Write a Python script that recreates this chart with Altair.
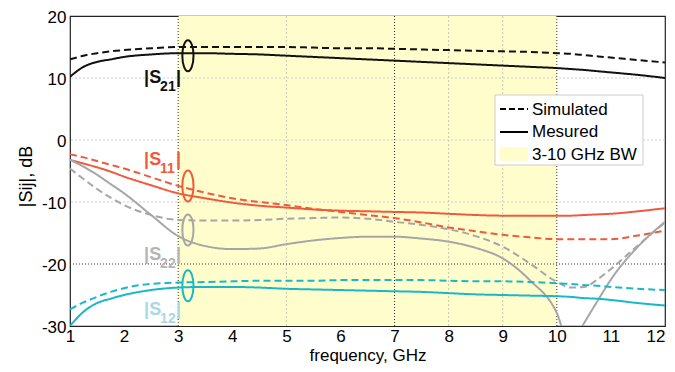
import altair as alt
import pandas as pd

freq = [1, 1.25, 1.5, 1.75, 2, 2.5, 3, 3.5, 4, 4.5, 5, 5.5, 6, 6.5, 7, 7.5,
        8, 8.5, 9, 9.5, 10, 10.25, 10.5, 10.75, 11, 11.5, 12]

s21_sim = [13.0, 13.6, 14.0, 14.3, 14.5, 14.8, 15.0, 15.0, 15.0, 15.0, 15.0, 14.9, 14.8, 14.8,
           14.7, 14.6, 14.5, 14.4, 14.3, 14.2, 14.0, 13.9, 13.7, 13.5, 13.3, 12.9, 12.5]
s21_meas = [10.2, 11.8, 12.6, 13.0, 13.4, 13.8, 14.0, 14.0, 13.9, 13.8, 13.6, 13.4, 13.2, 13.0,
            12.8, 12.6, 12.4, 12.2, 12.0, 11.8, 11.6, 11.45, 11.3, 11.1, 10.9, 10.5, 10.0]
s11_sim = [-2.3, -2.8, -3.4, -4.0, -4.6, -6.0, -7.4, -8.5, -9.4, -10.0, -10.5, -11.1, -11.6, -12.1,
           -12.6, -13.3, -14.1, -14.7, -15.3, -15.7, -16.0, -16.0, -16.0, -16.0, -16.0, -15.4, -14.6]
s11_meas = [-3.2, -3.8, -4.4, -5.1, -5.9, -7.3, -8.6, -9.4, -10.1, -10.6, -10.9, -11.2, -11.4, -11.5,
            -11.6, -11.7, -11.9, -12.1, -12.2, -12.2, -12.2, -12.2, -12.1, -12.0, -11.9, -11.5, -11.0]
s22_sim = [-4.6, -6.3, -7.9, -9.3, -10.5, -12.1, -12.9, -13.0, -13.0, -12.9, -12.7, -12.6, -12.5, -12.7,
           -13.2, -13.7, -14.4, -15.5, -17.2, -19.9, -22.9, -23.8, -23.7, -22.5, -20.8, -17.0, -13.3]
s22_meas = [-3.2, -4.3, -5.6, -7.1, -8.6, -12.1, -15.5, -17.1, -17.6, -17.5, -16.8, -16.2, -15.8, -15.6,
            -15.6, -15.9, -16.4, -17.4, -19.1, -22.6, -27.9, -33.5, -29.6, -26.0, -22.5, -17.2, -13.2]
s12_sim = [-27.3, -26.2, -25.3, -24.5, -23.9, -23.2, -23.0, -22.9, -22.8, -22.7, -22.7, -22.7, -22.6, -22.6,
           -22.6, -22.6, -22.7, -22.8, -22.8, -22.9, -23.1, -23.2, -23.4, -23.5, -23.7, -24.0, -24.2]
s12_meas = [-30.0, -27.7, -26.3, -25.6, -25.0, -24.2, -23.8, -23.7, -23.7, -23.8, -24.0, -24.1, -24.2, -24.3,
            -24.4, -24.5, -24.7, -24.9, -25.0, -25.1, -25.2, -25.3, -25.5, -25.6, -25.8, -26.3, -26.7]

series_names = ["S21", "S11", "S22", "S12"]
series_colors = ["#111111", "#f05a3c", "#a6a6a6", "#17b9c9"]
label_colors = ["#111111", "#f05a3c", "#b4b4b4", "#a8d8e6"]
label_subs = ["21", "11", "22", "12"]
label_x = [2.37, 2.37, 2.37, 2.37]
label_y = [9.2, -4.0, -19.35, -28.2]
ellipse_x = [3.18, 3.18, 3.18, 3.18]
ellipse_y = [13.6, -7.4, -14.5, -23.5]

band_start, band_end = 3, 10
dark_vlines = [3, 7, 10]
light_vlines = [5, 8, 9]
light_hlines = [10, 0, -10]
dark_hlines = [-20]

x_ticks = list(range(1, 13))
y_ticks = [-30, -20, -10, 0, 10, 20]

sim = {"S21": s21_sim, "S11": s11_sim, "S22": s22_sim, "S12": s12_sim}
meas = {"S21": s21_meas, "S11": s11_meas, "S22": s22_meas, "S12": s12_meas}

rows = []
for name in series_names:
    for f, v in zip(freq, sim[name]):
        rows.append({"freq": f, "val": v, "series": name, "kind": "Simulated", "key": name + "s"})
    for f, v in zip(freq, meas[name]):
        rows.append({"freq": f, "val": v, "series": name, "kind": "Mesured", "key": name + "m"})
df = pd.DataFrame(rows)

xscale = alt.Scale(domain=[1, 12], nice=False, zero=False)
yscale = alt.Scale(domain=[-30, 20], nice=False, zero=False)

FONT = "Liberation Sans"

band = alt.Chart(pd.DataFrame({"a": [band_start], "b": [band_end], "lo": [-30], "hi": [20]})).mark_rect(
    color="#fffdcc").encode(
    x=alt.X("a:Q", scale=xscale,
            axis=alt.Axis(values=x_ticks, title="frequency, GHz", grid=False, ticks=False, domain=False,
                          labelPadding=2, labelFlush=False,
                          labelAlign=alt.condition("datum.value == 12", alt.value("right"), alt.value("center")),
                          labelExpr="datum.value + ''",
                          titleY=34, titleBaseline="alphabetic", titleFontSize=17)),
    x2="b:Q",
    y=alt.Y("lo:Q", scale=yscale,
            axis=alt.Axis(values=y_ticks, title="|Sij|, dB", grid=False, ticks=False, domain=False,
                          labelPadding=4, labelOffset=1, labelExpr="datum.value + ''",
                          titleAngle=-90, titleX=-44, titleY=160,
                          titleAlign="center", titleBaseline="middle", labelFlush=False)),
    y2="hi:Q",
)

def vrules(vals, color, dash):
    return alt.Chart(pd.DataFrame({"v": vals})).mark_rule(color=color, strokeDash=dash, strokeWidth=1).encode(
        x=alt.X("v:Q", scale=xscale))

def hrules(vals, color, dash):
    return alt.Chart(pd.DataFrame({"v": vals})).mark_rule(color=color, strokeDash=dash, strokeWidth=1).encode(
        y=alt.Y("v:Q", scale=yscale))

grid = (vrules(light_vlines, "#c9c9b4", [2, 2]) + hrules(light_hlines, "#cfcfcf", [2, 2])
        + vrules(dark_vlines, "#333333", [1, 2]) + hrules(dark_hlines, "#333333", [1, 2]))

lines = alt.Chart(df).mark_line(strokeWidth=2, clip=True, interpolate="monotone").encode(
    x=alt.X("freq:Q", scale=xscale),
    y=alt.Y("val:Q", scale=yscale),
    color=alt.Color("series:N", scale=alt.Scale(domain=series_names, range=series_colors), legend=None),
    strokeDash=alt.StrokeDash("kind:N", scale=alt.Scale(domain=["Simulated", "Mesured"], range=[[7, 4], [1, 0]]),
                              legend=None),
    detail="key:N",
)

ell_df = pd.DataFrame({"x": ellipse_x, "y": ellipse_y, "c": series_colors})
ellipse_path = "M 0 -1 A 0.36 1 0 1 1 0 1 A 0.36 1 0 1 1 0 -1 Z"
ellipses = alt.Chart(ell_df).mark_point(shape=ellipse_path, size=961, filled=False, strokeWidth=2,
                                        opacity=1).encode(
    x=alt.X("x:Q", scale=xscale), y=alt.Y("y:Q", scale=yscale), color=alt.Color("c:N", scale=None))

lab_df = pd.DataFrame({"x": label_x, "y": label_y, "sub": label_subs, "c": label_colors,
                       "main": ["|S"] * 4, "bar": ["|"] * 4})
lab_base = alt.Chart(lab_df).encode(
    x=alt.X("x:Q", scale=xscale), y=alt.Y("y:Q", scale=yscale), color=alt.Color("c:N", scale=None))
lab_main = lab_base.mark_text(align="left", baseline="alphabetic", font=FONT, fontWeight="bold",
                              fontSize=18).encode(text="main:N")
lab_sub = lab_base.mark_text(align="left", baseline="alphabetic", font=FONT, fontWeight="bold",
                             fontSize=14, dx=16, dy=8).encode(text="sub:N")
lab_bar = lab_base.mark_text(align="left", baseline="alphabetic", font=FONT, fontWeight="bold",
                             fontSize=18, dx=32).encode(text="bar:N")

one = pd.DataFrame({"a": [0]})
leg_box = alt.Chart(one).mark_rect(fill="white", stroke="#cccccc", strokeWidth=1).encode(
    x=alt.value(425), x2=alt.value(573), y=alt.value(79), y2=alt.value(149))
leg_dash = alt.Chart(one).mark_rule(color="black", strokeWidth=2, strokeDash=[6, 3]).encode(
    x=alt.value(430), x2=alt.value(458), y=alt.value(93))
leg_solid = alt.Chart(one).mark_rule(color="black", strokeWidth=2).encode(
    x=alt.value(430), x2=alt.value(458), y=alt.value(116))
leg_sq = alt.Chart(one).mark_rect(color="#fffdcc").encode(
    x=alt.value(430), x2=alt.value(458), y=alt.value(131), y2=alt.value(145))
leg_texts = []
for txt, yy in [("Simulated", 99), ("Mesured", 121), ("3-10 GHz BW", 144)]:
    leg_texts.append(alt.Chart(one).mark_text(align="left", baseline="alphabetic", font=FONT, fontSize=17,
                                              color="black").encode(
        x=alt.value(462), y=alt.value(yy), text=alt.value(txt)))

chart = alt.layer(band, grid, lines, ellipses, lab_main, lab_sub, lab_bar,
                  leg_box, leg_dash, leg_solid, leg_sq, *leg_texts).properties(
    width=595, height=310,
    autosize=alt.AutoSizeParams(type="none"),
    padding={"left": 62, "top": 8, "right": 2, "bottom": 38},
).configure_view(stroke="#222222", strokeWidth=1.2).configure_axis(
    labelFont=FONT, labelFontSize=17, labelColor="black", titleFont=FONT, titleFontSize=18,
    titleFontWeight="normal", titleColor="black")

chart.save("out.html", embed_options={"renderer": "svg", "actions": False})
